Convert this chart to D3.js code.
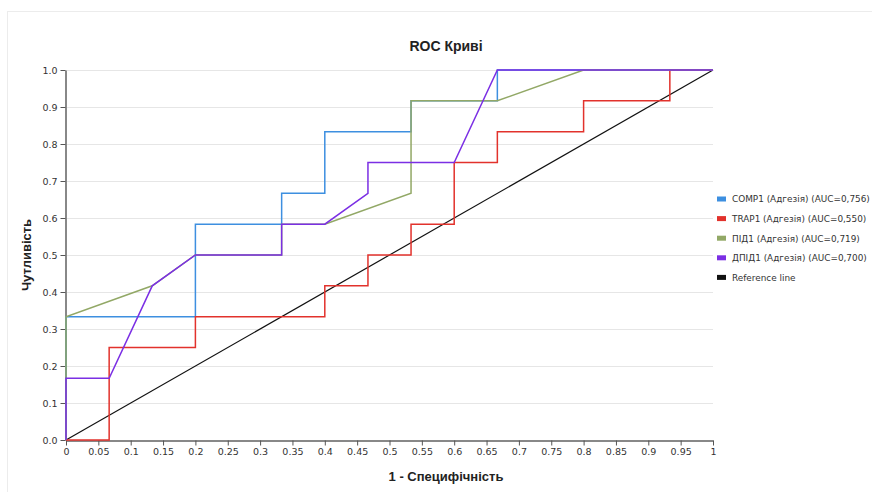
<!DOCTYPE html>
<html>
<head>
	<meta charset="utf-8">
	<script src="https://cdn.jsdelivr.net/npm/d3@7/dist/d3.min.js"></script>
	<style>
		body { margin: 0; background: white; }
	</style>
</head>
<body>
	<script>

		var width = 872, height = 492;

		// ROC points: false positive rate (1 - specificity) and sensitivity
		var comp1_fpr = [0, 0, 0.2, 0.2, 0.3333, 0.3333, 0.4, 0.4, 0.5333, 0.5333, 0.6667, 0.6667, 1];
		var comp1_tpr = [0, 0.3333, 0.3333, 0.5833, 0.5833, 0.6667, 0.6667, 0.8333, 0.8333, 0.9167, 0.9167, 1, 1];

		var trap1_fpr = [0, 0.0667, 0.0667, 0.2, 0.2, 0.4, 0.4, 0.4667, 0.4667, 0.5333, 0.5333, 0.6, 0.6, 0.6667, 0.6667, 0.8, 0.8, 0.9333, 0.9333, 1];
		var trap1_tpr = [0, 0, 0.25, 0.25, 0.3333, 0.3333, 0.4167, 0.4167, 0.5, 0.5, 0.5833, 0.5833, 0.75, 0.75, 0.8333, 0.8333, 0.9167, 0.9167, 1, 1];

		var pid1_fpr = [0, 0, 0.1333, 0.2, 0.3333, 0.3333, 0.4, 0.5333, 0.5333, 0.6667, 0.8, 1];
		var pid1_tpr = [0, 0.3333, 0.4167, 0.5, 0.5, 0.5833, 0.5833, 0.6667, 0.9167, 0.9167, 1, 1];

		var dpid1_fpr = [0, 0, 0.0667, 0.1333, 0.2, 0.3333, 0.3333, 0.4, 0.4667, 0.4667, 0.6, 0.6667, 1];
		var dpid1_tpr = [0, 0.1667, 0.1667, 0.4167, 0.5, 0.5, 0.5833, 0.5833, 0.6667, 0.75, 0.75, 1, 1];

		var ref_fpr = [0, 1];
		var ref_tpr = [0, 1];

		var series_names = ["COMP1 (Адгезія) (AUC=0,756)", "TRAP1 (Адгезія) (AUC=0,550)",
		                    "ПІД1 (Адгезія) (AUC=0,719)", "ДПІД1 (Адгезія) (AUC=0,700)",
		                    "Reference line"];
		var series_colors = ["#3d8fe0", "#e2322c", "#92a866", "#7b2fe4", "#111111"];
		var series_x = [comp1_fpr, trap1_fpr, pid1_fpr, dpid1_fpr, ref_fpr];
		var series_y = [comp1_tpr, trap1_tpr, pid1_tpr, dpid1_tpr, ref_tpr];

		var x_ticks = d3.range(0, 21).map(function(i) { return i * 0.05; });
		var y_ticks = d3.range(0, 11).map(function(i) { return i / 10; });

		var margin = { left: 66, right: 159, top: 70, bottom: 52 };

		var svg = d3.select("body").append("svg")
			.attr("width", width)
			.attr("height", height);

		// faint outer frame
		svg.append("rect")
			.attr("x", 7.5).attr("y", 11.5)
			.attr("width", width).attr("height", height)
			.attr("fill", "none")
			.attr("stroke", "#ececec");

		var x = d3.scaleLinear().domain([0, 1]).range([margin.left, width - margin.right]);
		var y = d3.scaleLinear().domain([0, 1]).range([height - margin.bottom, margin.top]);

		// horizontal grid
		svg.append("g")
			.selectAll("line")
			.data(y_ticks)
			.join("line")
			.attr("x1", x(0)).attr("x2", x(1))
			.attr("y1", function(d) { return y(d) + 0.5; })
			.attr("y2", function(d) { return y(d) + 0.5; })
			.attr("stroke", "#e6e6e6")
			.attr("stroke-width", 1);

		var fmtX = function(d) { return d3.format("~g")(+d.toFixed(2)); };

		var xAxis = svg.append("g")
			.attr("transform", "translate(0," + (y(0) + 0.5) + ")")
			.call(d3.axisBottom(x).tickValues(x_ticks).tickFormat(fmtX).tickSize(5).tickSizeOuter(0));

		var yAxis = svg.append("g")
			.attr("transform", "translate(" + (x(0) - 0.5) + ",0)")
			.call(d3.axisLeft(y).tickValues(y_ticks).tickFormat(d3.format(".1f")).tickSize(5).tickSizeOuter(0));

		[xAxis, yAxis].forEach(function(a) {
			a.select(".domain").attr("stroke", "#888").attr("stroke-width", 2);
			a.selectAll(".tick line").attr("stroke", "#555");
			a.selectAll(".tick text")
				.attr("font-family", "DejaVu Sans, Verdana, sans-serif")
				.attr("font-size", 9.5)
				.attr("fill", "#333");
		});

		// curves
		var line = d3.line()
			.x(function(d) { return x(d[0]); })
			.y(function(d) { return y(d[1]); });

		[4, 0, 1, 2, 3].forEach(function(i) {
			var pts = d3.zip(series_x[i], series_y[i]);
			svg.append("path")
				.datum(pts)
				.attr("d", line)
				.attr("fill", "none")
				.attr("stroke", series_colors[i])
				.attr("stroke-width", i == 4 ? 1.2 : 1.5);
		});

		// title and axis labels
		svg.append("text")
			.attr("x", 446).attr("y", 51)
			.attr("text-anchor", "middle")
			.attr("font-family", "Liberation Sans, Arial, sans-serif")
			.attr("font-weight", "bold")
			.attr("font-size", 14)
			.attr("fill", "#222")
			.text("ROC Криві");

		svg.append("text")
			.attr("x", 446).attr("y", 481)
			.attr("text-anchor", "middle")
			.attr("font-family", "Liberation Sans, Arial, sans-serif")
			.attr("font-weight", "bold")
			.attr("font-size", 13)
			.attr("fill", "#222")
			.text("1 - Специфічність");

		svg.append("text")
			.attr("transform", "translate(31,255) rotate(-90)")
			.attr("text-anchor", "middle")
			.attr("font-family", "Liberation Sans, Arial, sans-serif")
			.attr("font-weight", "bold")
			.attr("font-size", 13)
			.attr("fill", "#222")
			.text("Чутливість");

		// legend
		var legend = svg.append("g")
			.selectAll("g")
			.data(series_names)
			.join("g")
			.attr("transform", function(d, i) { return "translate(717," + (199 + i * 19.6) + ")"; });

		legend.append("rect")
			.attr("x", 0).attr("y", -2.5)
			.attr("width", 9).attr("height", 5)
			.attr("fill", function(d, i) { return series_colors[i]; });

		legend.append("text")
			.attr("x", 15).attr("y", 3.3)
			.attr("font-family", "DejaVu Sans, Verdana, sans-serif")
			.attr("font-size", 8.9)
			.attr("fill", "#333")
			.text(function(d) { return d; });

	</script>
</body>
</html>
